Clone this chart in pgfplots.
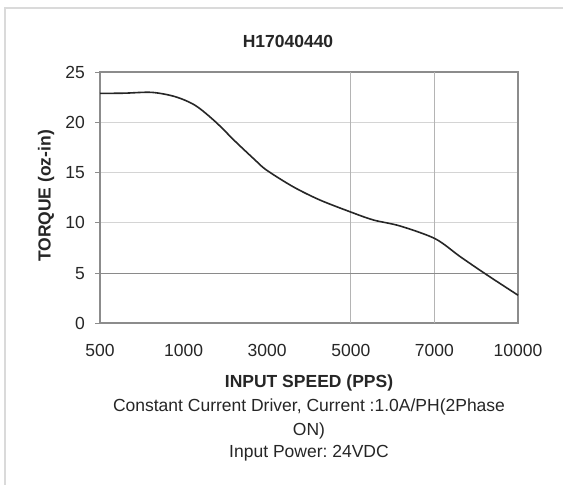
\documentclass[border=0pt]{standalone}
\usepackage{fontspec}
\setmainfont{Liberation Sans}
\usepackage{pgfplots}
\pgfplotsset{compat=1.18}
\definecolor{curve}{HTML}{262626}
\definecolor{frame}{HTML}{8C8C8C}
\definecolor{gridl}{HTML}{D4D4D4}
\definecolor{gridv}{HTML}{B4B4B4}
\definecolor{grid5}{HTML}{8A8A8A}
\definecolor{outer}{HTML}{DADADA}
\frenchspacing
\begin{document}
\begin{tikzpicture}[x=1pt,y=1pt]
\path[use as bounding box] (0,0) rectangle (563,485);
\fill[white] (0,0) rectangle (563,485);
\draw[outer, line width=1.3pt] (5,0) -- (5,477) -- (563,477);
\begin{axis}[
  at={(100pt,161.7pt)}, anchor=south west,
  scale only axis, width=418pt, height=251pt,
  xmin=0, xmax=5, ymin=0, ymax=25,
  xtick={0,1,2,3,4,5},
  xticklabels={500,1000,3000,5000,7000,10000},
  ytick={0,5,10,15,20,25},
  xtick pos=bottom, ytick pos=left,
  /pgf/number format/assume math mode=true,
  tick label style={font=\fontsize{17.5}{21}\selectfont, text=black!85},
  tick align=outside,
  x tick style={draw=none},
  y tick style={draw=frame, line width=0.8pt},
  major tick length=5pt,
  xticklabel style={anchor=base, inner sep=0pt, yshift=-28pt},
  yticklabel style={anchor=east, inner sep=0pt, xshift=-10pt},
  ymajorgrids,
  major grid style={draw=gridl, line width=1pt},
  extra x ticks={3,4},
  extra x tick labels={},
  extra x tick style={grid=major, major grid style={draw=gridv, line width=1pt}, tick style={draw=gridv, line width=1pt}},
  extra y ticks={5},
  extra y tick labels={},
  extra y tick style={grid=major, major grid style={draw=grid5, line width=0.9pt}},
  axis line style={draw=frame, line width=1.6pt},
  clip=false,
]
\addplot[curve, line width=1.6pt, smooth, tension=0.5] coordinates {
(0,22.9) (0.29,22.92) (0.62,23.0) (0.90,22.57) (1.14,21.7) (1.38,20.08)
(1.62,18.1) (1.85,16.3) (1.99,15.27) (2.31,13.6) (2.63,12.28) (3.01,11.05)
(3.27,10.29) (3.59,9.69) (4.01,8.42) (4.31,6.63) (4.63,4.81) (5.0,2.8)
};
\end{axis}
\node[anchor=base, font=\fontsize{17.5}{21}\selectfont\bfseries, text=black!85] at (288,437) {H17040440};
\node[rotate=90, anchor=center, font=\fontsize{17.5}{21}\selectfont\bfseries, text=black!85] at (46,289) {TORQUE (oz-in)};
\node[anchor=base, font=\fontsize{17.5}{21}\selectfont\bfseries, text=black!85] at (309,97) {INPUT SPEED (PPS)};
\node[anchor=base, font=\fontsize{17.5}{21}\selectfont, text=black!85] at (309,73) {Constant Current Driver, Current :1.0A/PH(2Phase};
\node[anchor=base, font=\fontsize{17.5}{21}\selectfont, text=black!85] at (309,49) {ON)};
\node[anchor=base, font=\fontsize{17.5}{21}\selectfont, text=black!85] at (309,27) {Input Power: 24VDC};
\end{tikzpicture}
\end{document}
